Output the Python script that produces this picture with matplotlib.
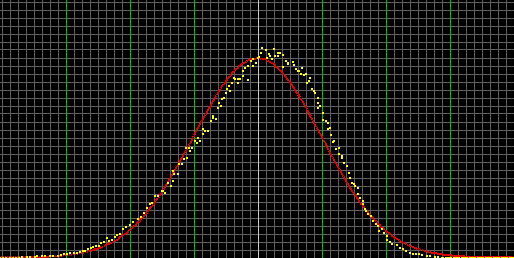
import numpy as np
import matplotlib
matplotlib.use('Agg')
import matplotlib.pyplot as plt

# measured samples (x in sigma units, y as density)
sample_x = [
    -4.016, -3.969, -3.922, -3.875, -3.828, -3.781, -3.734, -3.672, -3.609, -3.547, -3.484,
    -3.438, -3.375, -3.313, -3.25, -3.188, -3.125, -3.063, -3.016, -2.969, -2.922, -2.875,
    -2.828, -2.781, -2.734, -2.688, -2.641, -2.609, -2.563, -2.516, -2.469, -2.438, -2.391,
    -2.359, -2.328, -2.281, -2.234, -2.188, -2.141, -2.094, -2.047, -2.0, -1.938, -1.875,
    -1.828, -1.781, -1.719,
    -1.672, -1.641, -1.594, -1.547, -1.5, -1.469, -1.438, -1.391, -1.359, -1.313, -1.313,
    -1.297, -1.25, -1.219, -1.172, -1.156, -1.125, -1.094, -1.078, -1.047, -1.016, -0.969,
    -0.938, -0.922, -0.891, -0.859, -0.844, -0.813, -0.766, -0.734, -0.703, -0.688, -0.656,
    -0.625, -0.609, -0.578, -0.547, -0.531, -0.5, -0.469, -0.453, -0.422, -0.391, -0.375,
    -0.344, -0.297, -0.297, -0.266, -0.234, -0.219, -0.188, -0.156, -0.141, -0.109, -0.078,
    -0.063, -0.031, 0.0, 0.016,
    0.047, 0.078, 0.125, 0.141, 0.172, 0.203, 0.234, 0.25, 0.281, 0.313, 0.328, 0.359,
    0.391, 0.406, 0.438, 0.469, 0.484, 0.547, 0.563, 0.594, 0.625, 0.641, 0.672, 0.703,
    0.719, 0.75, 0.781, 0.797, 0.813, 0.844, 0.875, 0.906, 0.938, 0.953, 0.953, 0.984,
    1.016, 1.031, 1.063, 1.094, 1.109, 1.125, 1.156, 1.172, 1.203, 1.234, 1.266, 1.266,
    1.313, 1.328, 1.359, 1.391, 1.422, 1.453, 1.484, 1.5, 1.531, 1.563, 1.578, 1.609,
    1.641, 1.656,
    1.672, 1.703, 1.719, 1.781, 1.797, 1.859, 1.875, 1.906, 1.938, 1.984, 2.016, 2.031,
    2.063, 2.109, 2.172, 2.219, 2.266, 2.328, 2.375, 2.422, 2.484, 2.531, 2.578, 2.641,
    2.688, 2.766, 2.813,
    2.875, 2.906, 2.938, 2.969, 3.0, 3.031, 3.063, 3.094, 3.125, 3.156, 3.188, 3.219,
    3.25, 3.281, 3.313, 3.344, 3.375, 3.406, 3.438, 3.469, 3.5, 3.531, 3.563, 3.594,
    3.625, 3.656, 3.688, 3.719, 3.75, 3.781, 3.813, 3.844, 3.875, 3.906, 3.938, 3.969, 4.0,
]
sample_y = [
    0.0, 0.0, 0.0, 0.0, 0.0, 0.0, 0.0, 0.002, 0.002, 0.002, 0.002,
    0.004, 0.004, 0.004, 0.004, 0.004, 0.004, 0.006, 0.008, 0.008, 0.010, 0.010,
    0.010, 0.012, 0.014, 0.014, 0.018, 0.020, 0.022, 0.024, 0.024, 0.030, 0.032,
    0.040, 0.034, 0.036, 0.042, 0.046, 0.048, 0.058, 0.062, 0.066, 0.072, 0.078,
    0.082, 0.090, 0.100,
    0.108, 0.110, 0.124, 0.124, 0.134, 0.134, 0.130, 0.150, 0.144, 0.154, 0.174,
    0.168, 0.168, 0.188, 0.188, 0.198, 0.220, 0.200, 0.220, 0.214, 0.220, 0.234,
    0.230, 0.240, 0.234, 0.248, 0.258, 0.254, 0.254, 0.274, 0.280, 0.284, 0.278,
    0.300, 0.310, 0.304, 0.318, 0.320, 0.330, 0.338, 0.344, 0.334, 0.350, 0.360,
    0.358, 0.358, 0.350, 0.358, 0.364, 0.374, 0.380, 0.356, 0.384, 0.394, 0.398,
    0.384, 0.390, 0.400, 0.402,
    0.410, 0.420, 0.416, 0.400, 0.408, 0.404, 0.398, 0.418, 0.404, 0.410, 0.404, 0.410,
    0.382, 0.406, 0.394, 0.388, 0.390, 0.392, 0.386, 0.378, 0.374, 0.374, 0.368, 0.380,
    0.366, 0.368, 0.350, 0.354, 0.360, 0.338, 0.334, 0.330, 0.320, 0.310, 0.300, 0.304,
    0.290, 0.276, 0.274, 0.258, 0.270, 0.260, 0.246, 0.232, 0.234, 0.218, 0.220, 0.208,
    0.200, 0.204, 0.190, 0.184, 0.170, 0.160, 0.150, 0.148, 0.144, 0.140, 0.128, 0.120,
    0.114, 0.108,
    0.098, 0.094, 0.088, 0.084, 0.074, 0.068, 0.064, 0.054, 0.058, 0.050, 0.044, 0.036,
    0.032, 0.028, 0.026, 0.020, 0.018, 0.014, 0.010, 0.008, 0.008, 0.008, 0.006, 0.004,
    0.004, 0.002, 0.002,
    0.0, 0.0, 0.0, 0.0, 0.0, 0.0, 0.0, 0.0, 0.0, 0.0, 0.0, 0.0,
    0.0, 0.0, 0.0, 0.0, 0.0, 0.0, 0.0, 0.0, 0.0, 0.0, 0.0, 0.0,
    0.0, 0.0, 0.0, 0.0, 0.0, 0.0, 0.0, 0.0, 0.0, 0.0, 0.0, 0.0, 0.0,
]

# reference curve, one value per half grid step
curve_x = [i / 8 for i in range(-32, 33)]
curve_half = [0.3989, 0.3958, 0.3867, 0.3718, 0.3521, 0.3282, 0.3011, 0.2721, 0.2420,
              0.2119, 0.1826, 0.1550, 0.1295, 0.1065, 0.0863, 0.0688, 0.0540, 0.0417,
              0.0317, 0.0238, 0.0175, 0.0127, 0.0091, 0.0064, 0.0044, 0.0030, 0.0020,
              0.0013, 0.0009, 0.0006, 0.0004, 0.0002, 0.0001]
curve_y = curve_half[:0:-1] + curve_half

fig = plt.figure(figsize=(5.14, 2.58), dpi=100, facecolor='black')
ax = fig.add_axes([0, 0, 1, 1], facecolor='black')
ax.set_xlim(-257.5 / 64, 256.5 / 64)
ax.set_ylim(-0.001, 0.515)

# grid
ax.set_xticks(np.arange(-4, 4.01, 0.125))
ax.set_yticks(np.arange(0, 0.5125, 0.016))
ax.grid(True, color='#606060', linewidth=0.72, antialiased=False)
ax.tick_params(length=0, labelbottom=False, labelleft=False)
for s in ax.spines.values():
    s.set_visible(False)
ax.set_axisbelow(True)
for xv in [-3, -2, -1, 1, 2, 3]:
    ax.axvline(xv, color='#00c800', linewidth=0.72, antialiased=False, zorder=1)
ax.axvline(0, color='#c8c8c8', linewidth=0.72, antialiased=False, zorder=1)

ax.plot(curve_x, curve_y, color='#e00000', linewidth=0.72, linestyle=(0, (1, 1.3)),
        antialiased=False, zorder=3)
ax.plot(sample_x, sample_y, linestyle='none', marker='s', markersize=1.44,
        markeredgewidth=0, color='#ffff00', antialiased=False, zorder=4)

fig.savefig('out.png', dpi=100, facecolor='black')
